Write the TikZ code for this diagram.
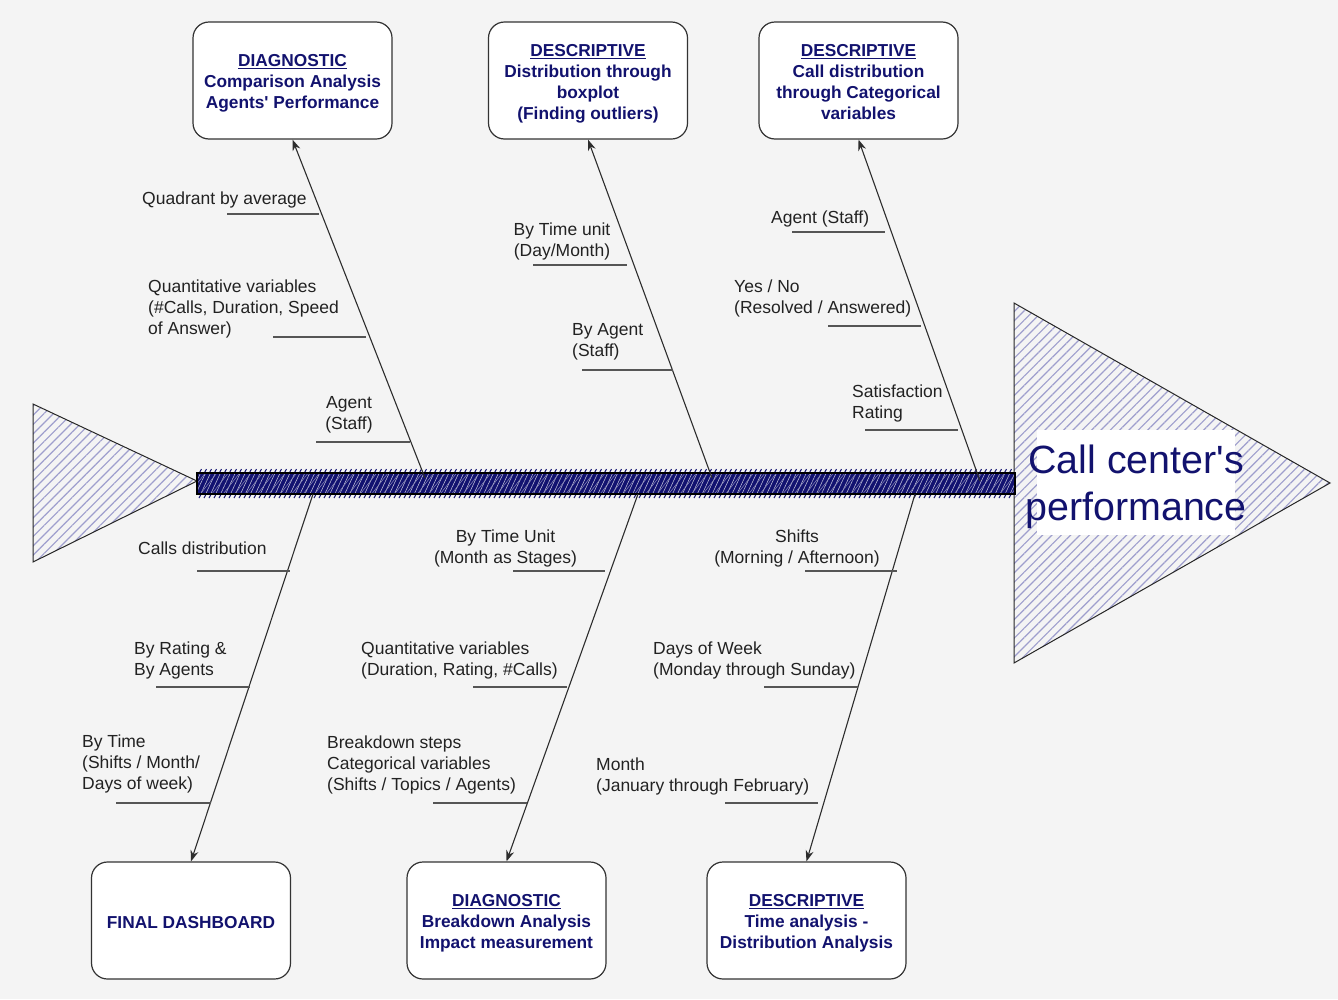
\documentclass[tikz,border=0pt]{standalone}
\usepackage{fontspec}
\setmainfont{Liberation Sans}[Ligatures=TeXOff]
\usetikzlibrary{patterns.meta,arrows.meta}
\definecolor{bg}{RGB}{244,244,244}
\definecolor{navytext}{RGB}{18,18,110}
\definecolor{spinecol}{RGB}{18,18,112}
\definecolor{hatchcol}{RGB}{158,158,205}
\definecolor{labeltext}{RGB}{34,34,34}
\definecolor{ulinecol}{RGB}{85,85,85}
\definecolor{bonecol}{RGB}{45,45,45}
\newcommand{\topstrut}{\rule{0pt}{18.4pt}}
\newcommand{\botstrut}{\rule[-3.7pt]{0pt}{3.7pt}}
\begin{document}
\begin{tikzpicture}[x=1pt,y=-1pt,
  lbl/.style={inner sep=0pt, text=labeltext, font=\fontsize{17.5}{21}\selectfont, align=left, anchor=west, yshift=-2.5pt},
  lblc/.style={lbl, align=center, anchor=center},
  ul/.style={draw=ulinecol, line width=1.6pt},
  boneline/.style={draw=bonecol, line width=1.1pt, -{Stealth[length=11pt,width=8pt]}},
  box/.style={draw=black!80, line width=1.2pt, fill=white, rounded corners=16pt,
    minimum width=199pt, minimum height=117pt, align=center, text=navytext,
    font=\bfseries\fontsize{17.3}{21}\selectfont, inner sep=0pt},
  fishtri/.style={draw=black!85, line width=1pt, pattern={Lines[angle=45,distance=6.6pt,line width=1.2pt]}, pattern color=hatchcol}
]
\useasboundingbox (0,0) rectangle (1338,999);
\fill[bg] (0,0) rectangle (1338,999);

% tail and head triangles
\draw[fishtri] (33,404) -- (197,481) -- (33,562) -- cycle;
\draw[fishtri] (1014,303) -- (1330,483) -- (1014,663) -- cycle;

% head label
\fill[white] (1037,430) rectangle (1235,535);
\node[inner sep=0pt, text=navytext, align=center, font=\fontsize{39.4}{47}\selectfont] (head) at (1136,487) {Call center's\\performance};

% spine
\fill[spinecol] (197,473) rectangle (1015,494);
\fill[pattern={Lines[angle=65,distance=4.5pt,line width=0.55pt]}, pattern color=white!75!spinecol] (197,473) rectangle (1015,494);
\fill[pattern={Lines[angle=52,distance=9pt,line width=0.5pt]}, pattern color=white!50!spinecol] (197,473) rectangle (1015,494);
\foreach \x in {199,204,...,1012} {
  \draw[spinecol, line width=1pt] (\x,473.5) -- (\x+2.5,469);
  \draw[spinecol, line width=1pt] (\x,498) -- (\x+2.5,493.5);
}
\draw[black, line width=1.5pt] (197,473) rectangle (1015,494);

% boxes
\node[box] (b1) at (292.5,80.5) {\topstrut\underline{DIAGNOSTIC}\\Comparison Analysis\\Agents' Performance};
\node[box] (b2) at (588,80.5) {\topstrut\underline{DESCRIPTIVE}\\Distribution through\\boxplot\\(Finding outliers)};
\node[box] (b3) at (858.5,80.5) {\topstrut\underline{DESCRIPTIVE}\\Call distribution\\through Categorical\\variables\botstrut};
\node[box] (b4) at (191,920.5) {\rule{0pt}{16.4pt}FINAL DASHBOARD};
\node[box] (b5) at (506.5,920.5) {\topstrut\underline{DIAGNOSTIC}\\Breakdown Analysis\\Impact measurement};
\node[box] (b6) at (806.5,920.5) {\topstrut\underline{DESCRIPTIVE}\\Time analysis -\\Distribution Analysis};

% bone roots on the spine
\coordinate (s1) at (425,478);
\coordinate (s2) at (712,478);
\coordinate (s3) at (980,481);
\coordinate (s4) at (313,494);
\coordinate (s5) at (638,494);
\coordinate (s6) at (915,494);

\draw[boneline] (s1) -- (b1.south);
\draw[boneline] (s2) -- (b2.south);
\draw[boneline] (s3) -- (b3.south);
\draw[boneline] (s4) -- (b4.north);
\draw[boneline] (s5) -- (b5.north);
\draw[boneline] (s6) -- (b6.north);

% underlines
\draw[ul] (227,214) -- (319,214);
\draw[ul] (273,337) -- (366,337);
\draw[ul] (316,442) -- (410,442);
\draw[ul] (533,265) -- (627,265);
\draw[ul] (582,370) -- (673,370);
\draw[ul] (792,232) -- (885,232);
\draw[ul] (828,326) -- (921,326);
\draw[ul] (865,430) -- (958,430);
\draw[ul] (197,571) -- (290,571);
\draw[ul] (156,687) -- (250,687);
\draw[ul] (116,803) -- (211,803);
\draw[ul] (513,571) -- (605,571);
\draw[ul] (473,687) -- (567,687);
\draw[ul] (433,803) -- (527,803);
\draw[ul] (805,571) -- (897,571);
\draw[ul] (764,687) -- (858,687);
\draw[ul] (725,803) -- (818,803);

% labels
\node[lbl] (l1) at (142,197) {Quadrant by average};
\node[lbl] (l2) at (148,306) {Quantitative variables\\(\#Calls, Duration, Speed\\of Answer)};
\node[lblc] (l3) at (349,412.5) {Agent\\(Staff)};
\node[lblc] (l4) at (562,238.5) {By Time unit\\(Day/Month)};
\node[lbl] (l5) at (572,339.5) {By Agent\\(Staff)};
\node[lbl] (l6) at (771,216) {Agent (Staff)};
\node[lbl] (l7) at (734,295.5) {Yes / No\\(Resolved / Answered)};
\node[lbl] (l8) at (852,400.5) {Satisfaction\\Rating};
\node[lbl] (l9) at (138,546) {Calls distribution};
\node[lbl] (l10) at (134,657.5) {By Rating \&\\By Agents};
\node[lbl] (l11) at (82,761) {By Time\\(Shifts / Month/\\Days of week)};
\node[lblc] (l12) at (505.5,545.5) {By Time Unit\\(Month as Stages)};
\node[lbl] (l13) at (361,657.5) {Quantitative variables\\(Duration, Rating, \#Calls)};
\node[lbl] (l14) at (327,762) {Breakdown steps\\Categorical variables\\(Shifts / Topics / Agents)};
\node[lblc] (l15) at (797,545.5) {Shifts\\(Morning / Afternoon)};
\node[lbl] (l16) at (653,657.5) {Days of Week\\(Monday through Sunday)};
\node[lbl] (l17) at (596,773.5) {Month\\(January through February)};
\end{tikzpicture}
\end{document}
